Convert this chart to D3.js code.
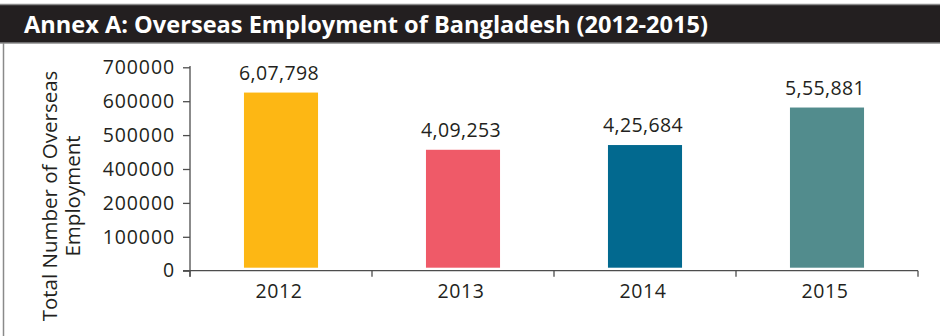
<!DOCTYPE html>
<html><head><meta charset="utf-8">
<script src="https://cdn.jsdelivr.net/npm/d3@7"></script>
<style>body{margin:0;background:#fff}svg{display:block}</style>
</head><body>
<script>
const title = "Annex A: Overseas Employment of Bangladesh (2012-2015)";
const years = ["2012", "2013", "2014", "2015"];
const employment = [607798, 409253, 425684, 555881];
const valueLabels = ["6,07,798", "4,09,253", "4,25,684", "5,55,881"];
const barColors = ["#FDB714", "#EF5A68", "#02698F", "#528C8D"];
const yTickLabels = ["0", "100000", "200000", "400000", "500000", "600000", "700000"];
const yTitleLines = ["Total Number of Overseas", "Employment"];

const W = 940, H = 336;
const svg = d3.select("body").append("svg").attr("width", W).attr("height", H);
const font = "'Open Sans', 'Noto Sans', sans-serif";
const ink = "#231F20";
const axisColor = "#4d4d4d";

// frame
svg.append("line").attr("x1", 3.5).attr("x2", 3.5).attr("y1", 43).attr("y2", H)
  .attr("stroke", "#8a8a8a").attr("stroke-width", 1.5);
svg.append("rect").attr("x", -2).attr("y", 4.5).attr("width", W + 4).attr("height", 38.5)
  .attr("fill", "#231F20").attr("stroke", "#8a8a8a").attr("stroke-width", 1.5);
svg.append("text").attr("x", 24).attr("y", 33).text(title)
  .attr("fill", "#fff").attr("font-family", font).attr("font-weight", 700)
  .attr("font-size", 24).attr("textLength", 684).attr("lengthAdjust", "spacingAndGlyphs");

// scales
const left = 190, right = 918, axisY = 270.7;
const x = d3.scaleBand().domain(years).range([left, right]).paddingInner(0).paddingOuter(0);
const barW = x.bandwidth() * 0.407;
const yBar = d3.scaleLinear().domain([0, 700000]).range([267.7, 66]);
const yTick = d3.scaleLinear().domain([0, yTickLabels.length - 1]).range([axisY, 67.3]);

// bars
svg.selectAll("rect.bar").data(employment).join("rect").attr("class", "bar")
  .attr("x", (d, i) => x(years[i]) + (x.bandwidth() - barW) / 2)
  .attr("width", barW)
  .attr("y", d => yBar(d))
  .attr("height", d => yBar(0) - yBar(d))
  .attr("fill", (d, i) => barColors[i]);

// value labels
svg.selectAll("text.val").data(employment).join("text").attr("class", "val")
  .attr("x", (d, i) => x(years[i]) + x.bandwidth() / 2 - 2)
  .attr("y", d => yBar(d) - 13)
  .attr("text-anchor", "middle").text((d, i) => valueLabels[i])
  .attr("fill", ink).attr("font-family", font).attr("font-size", 19.5).attr("letter-spacing", 0.4);

// y axis
const yAxis = d3.axisLeft(yTick).tickValues(d3.range(yTickLabels.length))
  .tickFormat(i => yTickLabels[i]).tickSize(7).tickPadding(8);
const gy = svg.append("g").attr("transform", `translate(${left},0)`).call(yAxis);
gy.select(".domain").remove();
gy.append("line").attr("x1", 0).attr("x2", 0).attr("y1", 66).attr("y2", axisY + 6);
gy.selectAll("line").attr("stroke", axisColor).attr("stroke-width", 1.3);
gy.selectAll("text").attr("fill", ink).attr("font-family", font).attr("font-size", 19.5)
  .attr("letter-spacing", 0.9);

// x axis
const gx = svg.append("g").attr("transform", `translate(0,${axisY})`);
gx.append("line").attr("x1", left - 7).attr("x2", right).attr("y1", 0).attr("y2", 0);
const bounds = years.map(y => x(y)).concat([right]);
gx.selectAll("line.tk").data(bounds).join("line").attr("class", "tk")
  .attr("x1", d => d).attr("x2", d => d).attr("y1", 0).attr("y2", 6);
gx.selectAll("line").attr("stroke", axisColor).attr("stroke-width", 1.3);
gx.selectAll("text").data(years).join("text")
  .attr("x", d => x(d) + x.bandwidth() / 2 - 2).attr("y", 27)
  .attr("text-anchor", "middle").text(d => d)
  .attr("fill", ink).attr("font-family", font).attr("font-size", 19.5).attr("letter-spacing", 0.6);

// y title
const yt = svg.append("text").attr("transform", "translate(0,196) rotate(-90)")
  .attr("text-anchor", "middle").attr("fill", ink).attr("font-family", font).attr("font-size", 20.5);
yTitleLines.forEach((t, i) => {
  yt.append("tspan").attr("x", 0).attr("y", 57 + i * 23).text(t);
});
</script>
</body></html>
